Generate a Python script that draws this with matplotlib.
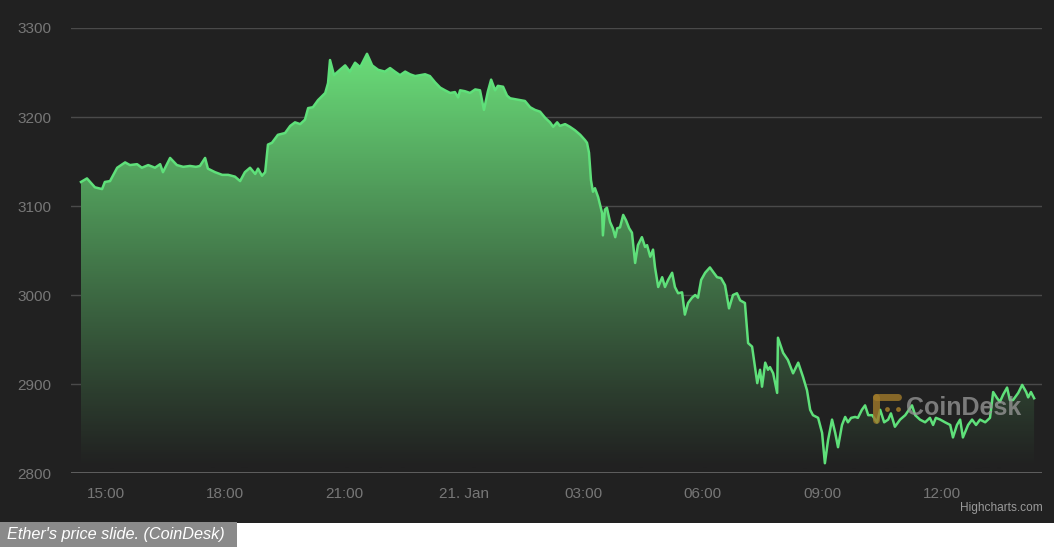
import numpy as np
import matplotlib
matplotlib.use("Agg")
import matplotlib.pyplot as plt
from matplotlib.colors import LinearSegmentedColormap

# hours since 20 Jan 00:00 (UTC) and ETH price in USD
hours = [
    14.37, 14.52, 14.72, 14.90, 14.97, 15.10, 15.28, 15.48, 15.60, 15.78,
    15.90, 16.06, 16.23, 16.36, 16.43, 16.61, 16.78, 16.94, 17.11, 17.26,
    17.36, 17.49, 17.56, 17.74, 17.92, 18.07, 18.24, 18.37, 18.49, 18.62,
    18.75, 18.82, 18.92, 19.00, 19.07, 19.17, 19.32, 19.50, 19.63, 19.75,
    19.88, 20.00, 20.08, 20.20, 20.33, 20.51, 20.58, 20.63, 20.73, 20.88,
    21.01, 21.13, 21.26, 21.39, 21.56, 21.69, 21.84, 22.01, 22.14, 22.26,
    22.39, 22.52, 22.64, 22.77, 22.89, 23.02, 23.14, 23.27, 23.40, 23.52,
    23.65, 23.77, 23.85, 23.90, 24.02, 24.15, 24.28, 24.40, 24.50, 24.60,
    24.68, 24.78, 24.85, 24.98, 25.08, 25.16, 25.28, 25.41, 25.53, 25.66,
    25.78, 25.91, 26.04, 26.16, 26.24, 26.34, 26.41, 26.54, 26.66, 26.79,
    26.92, 27.04, 27.09, 27.14, 27.19, 27.24, 27.29, 27.37, 27.47, 27.49,
    27.54, 27.59, 27.67, 27.74, 27.80, 27.85, 27.92, 28.00, 28.07, 28.15,
    28.22, 28.30, 28.37, 28.47, 28.55, 28.60, 28.68, 28.75, 28.80, 28.88,
    28.98, 29.05, 29.13, 29.23, 29.30, 29.38, 29.48, 29.55, 29.63, 29.73,
    29.81, 29.88, 29.96, 30.06, 30.18, 30.26, 30.36, 30.46, 30.56, 30.66,
    30.76, 30.86, 30.94, 31.06, 31.14, 31.24, 31.37, 31.44, 31.49, 31.57,
    31.64, 31.69, 31.77, 31.87, 31.89, 32.02, 32.14, 32.27, 32.40, 32.52,
    32.62, 32.70, 32.77, 32.90, 33.00, 33.07, 33.15, 33.25, 33.33, 33.40,
    33.50, 33.58, 33.65, 33.73, 33.83, 33.90, 34.00, 34.08, 34.16, 34.26,
    34.38, 34.46, 34.56, 34.66, 34.73, 34.83, 34.96, 35.09, 35.26, 35.34,
    35.46, 35.59, 35.71, 35.79, 35.86, 35.97, 36.09, 36.22, 36.29, 36.39,
    36.47, 36.54, 36.67, 36.77, 36.87, 36.97, 37.10, 37.22, 37.30, 37.40,
    37.47, 37.55, 37.65, 37.72, 37.80, 37.93, 38.03, 38.13, 38.18, 38.25,
    38.33,
]
price = [
    3127, 3131, 3121, 3119, 3127, 3128, 3143, 3149, 3146, 3147,
    3143, 3146, 3143, 3147, 3138, 3154, 3146, 3144, 3145, 3144,
    3145, 3154, 3142, 3138, 3135, 3135, 3133, 3128, 3138, 3143,
    3136, 3142, 3134, 3138, 3169, 3171, 3180, 3182, 3190, 3194,
    3192, 3197, 3210, 3211, 3219, 3227, 3238, 3264, 3247, 3253,
    3258, 3251, 3261, 3256, 3271, 3258, 3253, 3251, 3255, 3251,
    3247, 3251, 3248, 3246, 3247, 3248, 3246, 3239, 3233, 3230,
    3227, 3228, 3222, 3230, 3229, 3227, 3231, 3230, 3208, 3229,
    3242, 3230, 3235, 3234, 3224, 3221, 3220, 3219, 3218, 3211,
    3208, 3206, 3199, 3194, 3189, 3194, 3190, 3192, 3189, 3185,
    3180, 3174, 3171, 3160, 3129, 3116, 3120, 3110, 3092, 3067,
    3096, 3098, 3082, 3075, 3065, 3075, 3076, 3090, 3084, 3075,
    3070, 3036, 3056, 3065, 3054, 3056, 3043, 3051, 3031, 3009,
    3020, 3009, 3017, 3025, 3009, 3002, 3003, 2978, 2991, 2997,
    3000, 2997, 3017, 3025, 3031, 3026, 3020, 3019, 3011, 2985,
    3000, 3002, 2994, 2991, 2946, 2942, 2901, 2916, 2897, 2924,
    2916, 2919, 2912, 2890, 2952, 2935, 2927, 2912, 2924, 2908,
    2893, 2871, 2865, 2862, 2845, 2811, 2837, 2860, 2845, 2829,
    2854, 2863, 2857, 2862, 2863, 2862, 2871, 2876, 2865, 2865,
    2857, 2871, 2857, 2860, 2867, 2852, 2860, 2865, 2876, 2865,
    2860, 2857, 2862, 2854, 2862, 2860, 2857, 2854, 2840, 2854,
    2860, 2840, 2854, 2860, 2854, 2860, 2857, 2862, 2891, 2884,
    2880, 2888, 2896, 2882, 2882, 2890, 2899, 2891, 2885, 2891,
    2884,
]

tick_hours = [15, 18, 21, 24, 27, 30, 33, 36]
tick_labels = ["15:00", "18:00", "21:00", "21. Jan", "03:00", "06:00", "09:00", "12:00"]
y_ticks = [2800, 2900, 3000, 3100, 3200, 3300]

BG = "#212121"
LINE = "#5fe07a"
GRID = "#4a4a4a"
TXT = "#777777"

plt.rcParams["font.family"] = ["Liberation Sans", "DejaVu Sans"]

fig = plt.figure(figsize=(10.54, 5.49), dpi=100)
fig.patch.set_facecolor("white")

# dark chart background (top part of the image)
bg_ax = fig.add_axes([0, 0.047, 1, 0.953])
bg_ax.set_facecolor(BG)
bg_ax.set_xticks([])
bg_ax.set_yticks([])
for s in bg_ax.spines.values():
    s.set_visible(False)

ax = fig.add_axes([0.0674, 0.1384, 0.9213, 0.8106])
ax.set_facecolor("none")

for s in ax.spines.values():
    s.set_visible(False)

ax.set_yticks(y_ticks)
ax.set_xticks(tick_hours)
ax.set_xticklabels(tick_labels)
ax.grid(axis="y", color=GRID, linewidth=1)
ax.axhline(2800, color="#707070", linewidth=1.2, zorder=1)
ax.tick_params(axis="both", length=0, labelsize=11, colors=TXT)
ax.tick_params(axis="y", pad=14)
ax.tick_params(axis="x", pad=10)

# gradient area fill (opaque, from background up to green)
x = np.array(hours)
y = np.array(price)
cmap = LinearSegmentedColormap.from_list("g", [BG, (0.42, 0.88, 0.48)])
grad = np.linspace(0, 1, 256).reshape(-1, 1) ** 1.1
im = ax.imshow(grad, extent=[x.min(), x.max(), 2805, 3280], origin="lower",
               aspect="auto", cmap=cmap, vmin=0, vmax=1, zorder=2)
clip = plt.Polygon(np.vstack([np.column_stack([x, y]),
                              [[x.max(), 2805], [x.min(), 2805]]]),
                   transform=ax.transData, facecolor="none", edgecolor="none")
ax.add_patch(clip)
im.set_clip_path(clip)
ax.set_xlim(14.12, 38.53)
ax.set_ylim(2800, 3300)

ax.plot(x, y, color=LINE, linewidth=1.8, zorder=3, solid_joinstyle="round")

# watermark
ax.text(0.860, 0.145, "CoinDesk", transform=ax.transAxes, fontsize=18,
        fontweight="bold", color="#9a9a9a", alpha=0.75, ha="left", va="center",
        zorder=4)
logo = dict(color="#a07a2a", alpha=0.8, transform=ax.transAxes, zorder=4,
            solid_capstyle="round")
ax.plot([0.829, 0.852], [0.171, 0.171], linewidth=5, **logo)
ax.plot([0.829, 0.829], [0.171, 0.119], linewidth=5, **logo)
ax.plot([0.840, 0.852], [0.144, 0.144], "o", markersize=2.5, color="#a07a2a",
        alpha=0.8, transform=ax.transAxes, zorder=4)

fig.text(0.989, 0.075, "Highcharts.com", ha="right", va="center", fontsize=8.6,
         color="#9a9a9a")

# caption
fig.patches.append(plt.Rectangle((0, 0.004), 0.225, 0.046, transform=fig.transFigure,
                                 facecolor="#8a8a8a", edgecolor="none"))
fig.text(0.007, 0.026, "Ether's price slide. (CoinDesk)", ha="left", va="center",
         fontsize=11.7, style="italic", color="white")

fig.savefig("out.png", dpi=100)
